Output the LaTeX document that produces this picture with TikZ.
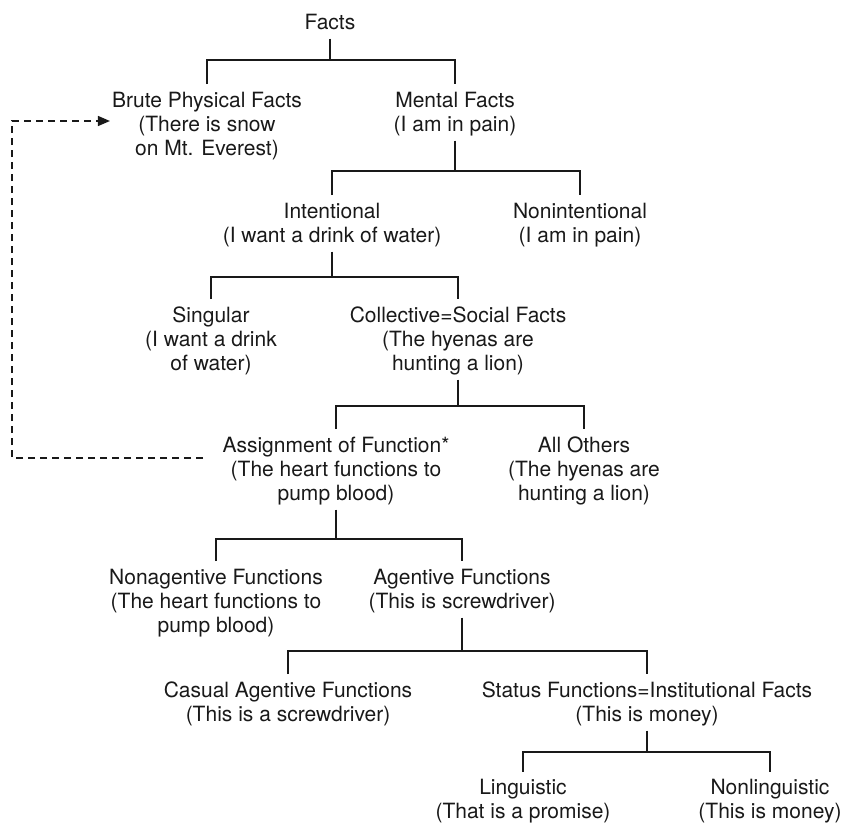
\documentclass[tikz,border=0pt]{standalone}
\usepackage{fontspec}
\setmainfont{TeX Gyre Heros}
\usetikzlibrary{arrows.meta}
\definecolor{ink}{RGB}{25,25,25}
\newcommand\treebranch[4]{%
  \draw[link] ([yshift=-2pt]#1.south) -- (#1.south |- 0,#4);
  \draw[link] ([yshift=6pt]#2.north) -- (#2.north |- 0,#4) -- (#3.north |- 0,#4) -- ([yshift=6pt]#3.north);
}
\begin{document}
\begin{tikzpicture}[x=1pt,y=-1pt,
  lbl/.style={anchor=north,inner sep=0pt,align=center,text=ink,font=\fontsize{21}{24}\selectfont},
  link/.style={draw=ink,line width=1.4pt},
  back/.style={draw=ink,line width=1.3pt,dash pattern=on 7pt off 5pt,-{Triangle[length=12pt,width=10pt]}}]
\useasboundingbox (0,0) rectangle (846,825);
\node[lbl] (facts) at (330,12.2) {\strut Facts};
\node[lbl] (brute) at (207,90.2) {\strut Brute Physical Facts\\\strut (There is snow\\\strut on Mt. Everest)};
\node[lbl] (mental) at (455,90.2) {\strut Mental Facts\\\strut (I am in pain)};
\node[lbl] (intent) at (332,201.2) {\strut Intentional\\\strut (I want a drink of water)};
\node[lbl] (nonint) at (580,201.2) {\strut Nonintentional\\\strut (I am in pain)};
\node[lbl] (single) at (211,305.2) {\strut Singular\\\strut (I want a drink\\\strut of water)};
\node[lbl] (collect) at (458,305.2) {\strut Collective=Social Facts\\\strut (The hyenas are\\\strut hunting a lion)};
\node[lbl] (assign) at (336,435.2) {\strut Assignment of Function*\\\strut (The heart functions to\\\strut pump blood)};
\node[lbl] (others) at (584,435.2) {\strut All Others\\\strut (The hyenas are\\\strut hunting a lion)};
\node[lbl] (nonagent) at (216,567.2) {\strut Nonagentive Functions\\\strut (The heart functions to\\\strut pump blood)};
\node[lbl] (agent) at (462,567.2) {\strut Agentive Functions\\\strut (This is screwdriver)};
\node[lbl] (casual) at (288,680.2) {\strut Casual Agentive Functions\\\strut (This is a screwdriver)};
\node[lbl] (status) at (647,680.2) {\strut Status Functions=Institutional Facts\\\strut (This is money)};
\node[lbl] (ling) at (523,777.5) {\strut Linguistic\\\strut (That is a promise)};
\node[lbl] (nonling) at (770,777.5) {\strut Nonlinguistic\\\strut (This is money)};
\treebranch{facts}{brute}{mental}{60}
\treebranch{mental}{intent}{nonint}{171}
\treebranch{intent}{single}{collect}{277}
\treebranch{collect}{assign}{others}{406}
\treebranch{assign}{nonagent}{agent}{539}
\treebranch{agent}{casual}{status}{651}
\treebranch{status}{ling}{nonling}{752}
\coordinate (dstart) at (203,458);
\coordinate (dcornerA) at (12,458);
\coordinate (dcornerB) at (12,121);
\draw[back] (dstart) -- (dcornerA) -- (dcornerB) -- ([xshift=-2pt]brute.west |- dcornerB);
\end{tikzpicture}
\end{document}
